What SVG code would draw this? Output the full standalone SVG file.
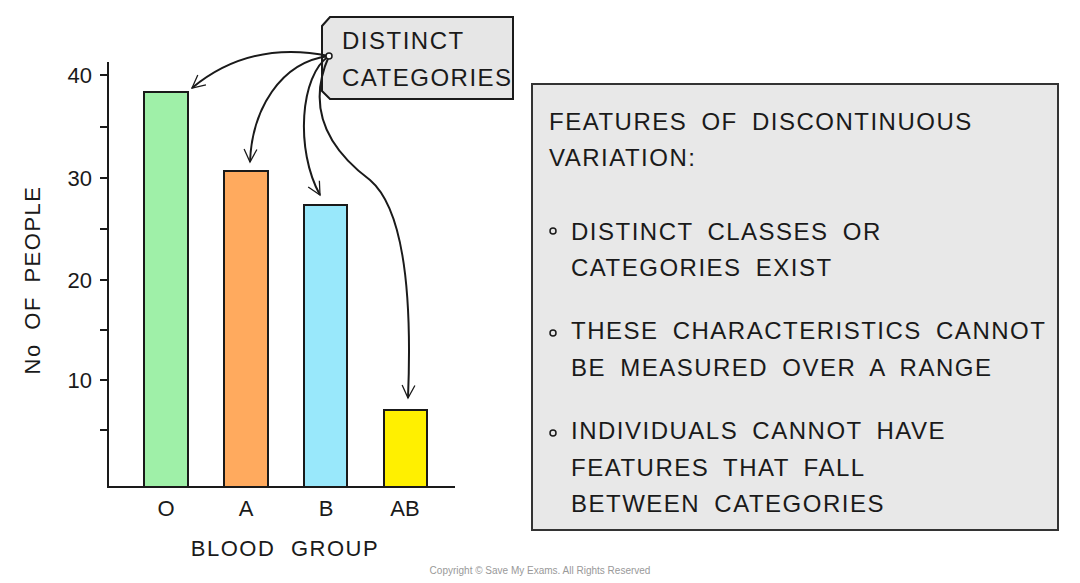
<svg xmlns="http://www.w3.org/2000/svg" width="1080" height="583" viewBox="0 0 1080 583">
<style>
text{font-family:"Liberation Sans",Arial,sans-serif;fill:#1a1a1a}
.t{font-size:24px;letter-spacing:1.5px;word-spacing:6px}
.ax{font-size:22px}
.ln{stroke:#1a1a1a;stroke-width:2;fill:none}
.bar{stroke:#1a1a1a;stroke-width:2}
</style>
<defs>
<marker id="ah" viewBox="0 0 20 20" refX="18" refY="10" markerWidth="16" markerHeight="16" orient="auto" markerUnits="userSpaceOnUse">
<path d="M2 2 L18 10 L2 18" fill="none" stroke="#1a1a1a" stroke-width="1.6"/>
</marker>
</defs>
<rect width="1080" height="583" fill="#fff"/>
<g id="axes">
<path class="ln" d="M108 62 V487 H455"/>
<path class="ln" d="M100 75 H108 M100 127 H108 M100 178 H108 M100 229 H108 M100 280 H108 M100 330 H108 M100 380 H108 M100 430 H108"/>
<text class="ax" x="92" y="83" text-anchor="end">40</text>
<text class="ax" x="92" y="186" text-anchor="end">30</text>
<text class="ax" x="92" y="288" text-anchor="end">20</text>
<text class="ax" x="92" y="388" text-anchor="end">10</text>
<text class="ax" x="40" y="280" text-anchor="middle" transform="rotate(-90 40 280)" style="letter-spacing:1.5px;word-spacing:6px">No OF PEOPLE</text>
<text class="ax" x="166" y="516" text-anchor="middle">O</text>
<text class="ax" x="246" y="516" text-anchor="middle">A</text>
<text class="ax" x="326" y="516" text-anchor="middle">B</text>
<text class="ax" x="405" y="516" text-anchor="middle">AB</text>
<text class="ax" x="285" y="556" text-anchor="middle" style="letter-spacing:1.5px;word-spacing:8px">BLOOD GROUP</text>
</g>
<g id="bars">
<rect class="bar" x="144" y="92" width="44" height="395" fill="#9ff0a8"/>
<rect class="bar" x="224" y="171" width="44" height="316" fill="#ffaa5e"/>
<rect class="bar" x="304" y="205" width="43" height="282" fill="#99e8fb"/>
<rect class="bar" x="384" y="410" width="43" height="77" fill="#fff000"/>
</g>
<g id="callout">
<path d="M330 17 H513 V99 H330 L322 91 V26 Z" fill="#e6e6e6" stroke="#1a1a1a" stroke-width="2"/>
<text class="t" x="342" y="49">DISTINCT</text>
<text class="t" x="342" y="86">CATEGORIES</text>
</g>
<g id="connectors">
<path class="ln" marker-end="url(#ah)" d="M329 56 Q250 40 192 88"/>
<path class="ln" marker-end="url(#ah)" d="M329 56 C280 62 252 110 250 162"/>
<path class="ln" marker-end="url(#ah)" d="M329 56 C300 75 295 150 320 195"/>
<path class="ln" marker-end="url(#ah)" d="M329 56 C305 110 330 150 370 180 C405 210 412 300 408 398"/>
<circle cx="329" cy="56" r="3" fill="#fff" stroke="#1a1a1a" stroke-width="1.5"/>
</g>
<g id="features">
<rect x="532" y="84" width="526" height="446" fill="#e8e8e8" stroke="#333" stroke-width="2"/>
<text class="t" x="549" y="130">FEATURES OF DISCONTINUOUS</text>
<text class="t" x="549" y="166">VARIATION:</text>
<circle cx="553" cy="231" r="3" fill="none" stroke="#1a1a1a" stroke-width="1.5"/>
<text class="t" x="571" y="240">DISTINCT CLASSES OR</text>
<text class="t" x="571" y="276">CATEGORIES EXIST</text>
<circle cx="553" cy="333" r="3" fill="none" stroke="#1a1a1a" stroke-width="1.5"/>
<text class="t" x="571" y="339">THESE CHARACTERISTICS CANNOT</text>
<text class="t" x="571" y="376">BE MEASURED OVER A RANGE</text>
<circle cx="553" cy="433" r="3" fill="none" stroke="#1a1a1a" stroke-width="1.5"/>
<text class="t" x="571" y="439">INDIVIDUALS CANNOT HAVE</text>
<text class="t" x="571" y="476">FEATURES THAT FALL</text>
<text class="t" x="571" y="512">BETWEEN CATEGORIES</text>
</g>
<text x="540" y="574" text-anchor="middle" style="font-size:10px;fill:#999">Copyright © Save My Exams. All Rights Reserved</text>
</svg>
